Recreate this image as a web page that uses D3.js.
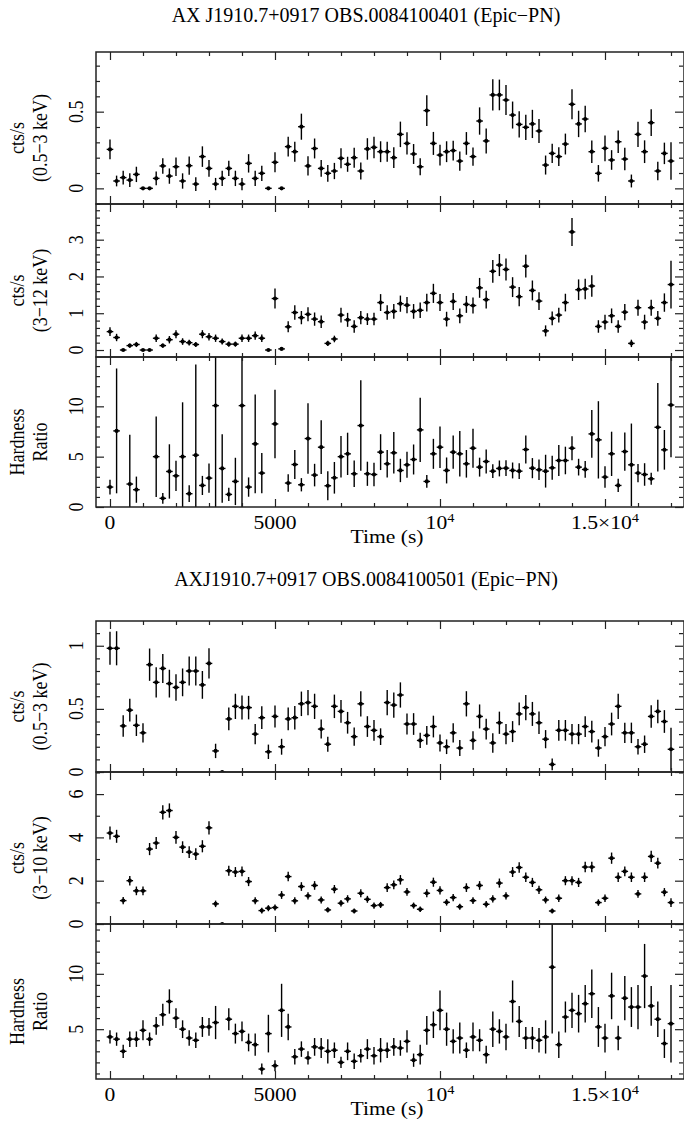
<!DOCTYPE html>
<meta charset="utf-8">
<style>
    body { margin: 0; background: #fff; }
    text { font-family: "Liberation Serif", "DejaVu Serif", serif; fill: #000; }
    .frame { fill: none; stroke: #222; stroke-width: 1.5; }
    .tick line { stroke: #222; stroke-width: 1.2; }
    .bar { stroke: #000; stroke-width: 1.4; }
    .dot { fill: #000; }
</style>
<svg width="684" height="1129"></svg>
<script src="https://d3js.org/d3.v7.min.js"></script>
<script>

    // 200 s bins, 0 .. 17000 s
    var timeBins = d3.range(0, 17001, 200);

    // ---- OBS.0084100401 ----
    var soft1 = [0.254,0.048,0.07,0.054,0.091,0,0,0.065,0.146,0.08,
        0.141,0.048,0.148,0.028,0.207,0.13,0.028,0.065,0.13,0.065,
        0.028,0.163,0.065,0.098,0,0.17,0,0.272,0.239,0.402,
        0.146,0.26,0.13,0.098,0.113,0.196,0.157,0.2,0.113,0.257,
        0.267,0.239,0.239,0.2,0.352,0.293,0.224,0.141,0.507,0.293,
        0.217,0.239,0.246,0.178,0.293,0.207,0.439,0.309,0.609,0.609,
        0.576,0.478,0.417,0.398,0.42,0.374,0.152,0.228,0.207,0.289,
        0.548,0.42,0.452,0.239,0.098,0.261,0.185,0.304,0.191,0.048,
        0.352,0.239,0.428,0.113,0.228,0.178];
    var soft1Err = [0.065,0.035,0.045,0.045,0.05,0,0,0.045,0.05,0.05,
        0.06,0.05,0.06,0.045,0.067,0.055,0.04,0.05,0.05,0.05,
        0.04,0.06,0.05,0.05,0,0.065,0,0.065,0.065,0.085,
        0.063,0.065,0.055,0.055,0.053,0.065,0.049,0.065,0.055,0.07,
        0.07,0.068,0.065,0.068,0.083,0.073,0.065,0.055,0.1,0.075,
        0.068,0.068,0.065,0.063,0.074,0.06,0.089,0.082,0.102,0.1,
        0.098,0.088,0.086,0.082,0.092,0.078,0.062,0.063,0.061,0.068,
        0.098,0.086,0.087,0.073,0.054,0.084,0.064,0.073,0.073,0.042,
        0.082,0.074,0.087,0.06,0.07,0.122];
    var hard1 = [0.5,0.34,0,0.12,0.15,0,0,0.32,0.12,0.28,
        0.43,0.23,0.2,0.15,0.43,0.36,0.32,0.23,0.16,0.16,
        0.32,0.32,0.39,0.32,0,1.4,0.03,0.63,1.02,0.88,
        0.97,0.84,0.77,0.18,0.3,0.95,0.82,0.64,0.88,0.84,
        0.84,1.29,1.02,1.05,1.26,1.22,1.05,1.08,1.29,1.54,
        1.29,0.84,1.32,0.93,1.24,1.21,1.69,1.37,2.14,2.31,
        2.19,1.71,1.45,2.28,1.62,1.33,0.52,0.86,0.95,1.29,
        3.21,1.64,1.66,1.74,0.64,0.76,0.93,0.64,1.03,0.18,
        1.15,0.76,1.15,0.86,1.29,1.78];
    var hard1Err = [0.12,0.1,0,0.06,0.07,0,0,0.1,0.06,0.1,
        0.11,0.09,0.08,0.07,0.11,0.1,0.1,0.08,0.07,0.07,
        0.1,0.1,0.11,0.1,0,0.27,0.03,0.15,0.2,0.18,
        0.19,0.18,0.17,0.07,0.09,0.2,0.19,0.17,0.18,0.16,
        0.17,0.23,0.2,0.2,0.22,0.22,0.2,0.21,0.24,0.26,
        0.23,0.2,0.23,0.2,0.23,0.22,0.27,0.24,0.31,0.3,
        0.3,0.27,0.26,0.31,0.27,0.24,0.15,0.19,0.2,0.24,
        0.38,0.28,0.28,0.29,0.17,0.2,0.2,0.17,0.22,0.1,
        0.22,0.2,0.22,0.2,0.25,0.65];
    var hr1 = [1.98,7.56,null,2.28,1.72,null,null,5.0,0.86,3.53,
        3.1,5.0,1.32,5.15,2.14,2.87,10.07,3.83,1.25,2.54,
        10.07,1.98,6.27,3.37,null,8.25,null,2.38,4.22,2.21,
        6.8,3.17,5.94,2.11,2.9,5.0,5.28,3.3,8.09,3.3,
        3.23,5.45,4.29,5.38,3.63,4.19,4.72,7.66,2.54,5.28,
        5.94,3.63,5.45,5.28,4.29,5.84,3.96,4.52,3.56,3.83,
        3.86,3.63,3.56,5.71,3.86,3.7,3.56,3.89,4.62,4.62,
        5.84,3.96,3.73,7.26,6.67,2.97,5.28,2.14,5.51,4.19,
        3.37,3.23,2.8,7.92,5.68,10.13];
    var hr1Err = [0.73,6.2,0,4.9,1.3,0,0,4.0,0.53,2.7,
        1.5,5.4,0.83,9.0,0.95,1.45,10.5,3.4,0.66,2.35,
        10.5,0.96,4.9,2.0,0,3.4,0,0.87,1.43,0.66,
        3.5,1.12,2.67,1.43,1.57,2.06,2.1,1.32,4.5,1.2,
        1.16,1.78,1.37,2.06,1.16,1.29,1.49,3.2,0.63,1.49,
        2.06,1.29,1.65,2.26,1.37,1.93,0.94,1.2,0.69,0.79,
        0.79,0.79,0.78,1.4,1.0,1.02,1.63,1.19,1.53,1.37,
        1.19,0.83,0.83,2.38,3.84,1.07,2.2,0.66,1.9,4.1,
        0.9,1.12,0.6,4.4,1.97,5.2];

    // ---- OBS.0084100501 ----
    var soft2 = [0.98,0.98,0.365,0.49,0.37,0.31,0.85,0.71,0.82,0.70,
        0.67,0.71,0.80,0.80,0.69,0.86,0.167,0.0,0.42,0.52,
        0.51,0.51,0.30,0.43,0.16,0.44,0.2,0.42,0.43,0.54,
        0.55,0.52,0.34,0.22,0.52,0.48,0.39,0.28,0.54,0.36,
        0.33,0.28,0.55,0.53,0.61,0.38,0.38,0.25,0.29,0.36,
        0.23,0.2,0.31,0.19,0.54,0.25,0.44,0.34,0.23,0.39,
        0.30,0.32,0.46,0.51,0.46,0.39,0.26,0.06,0.33,0.33,
        0.30,0.30,0.36,0.32,0.19,0.28,0.38,0.52,0.31,0.31,
        0.2,0.22,0.44,0.48,0.40,0.18];
    var soft2Err = [0.13,0.135,0.085,0.09,0.085,0.077,0.128,0.12,0.115,0.11,
        0.105,0.11,0.115,0.115,0.11,0.12,0.057,0.01,0.09,0.1,
        0.095,0.093,0.08,0.09,0.057,0.087,0.063,0.09,0.093,0.097,
        0.1,0.1,0.075,0.06,0.093,0.09,0.086,0.073,0.1,0.082,
        0.082,0.066,0.1,0.1,0.1,0.083,0.086,0.06,0.075,0.086,
        0.067,0.058,0.077,0.063,0.1,0.073,0.095,0.082,0.077,0.088,
        0.08,0.083,0.09,0.1,0.095,0.09,0.072,0.046,0.082,0.082,
        0.08,0.08,0.082,0.086,0.069,0.077,0.09,0.1,0.081,0.081,
        0.062,0.069,0.089,0.093,0.09,0.17];
    var hard2 = [4.2,4.05,1.08,2.0,1.53,1.53,3.46,3.74,5.16,5.24,
        4.0,3.55,3.32,3.23,3.59,4.44,0.93,0,2.46,2.4,
        2.43,1.96,1.07,0.62,0.73,0.76,1.34,2.19,1.07,1.73,
        1.3,1.78,1.11,0.65,1.61,0.96,1.16,0.6,1.42,1.14,
        0.85,0.88,1.68,1.81,2.04,1.48,0.85,0.68,1.42,1.93,
        1.55,1.0,1.22,0.8,1.68,1.08,1.78,0.91,1.16,1.89,
        1.3,2.4,2.61,2.16,1.92,1.58,1.11,0.6,1.19,2.0,
        2.0,1.92,2.63,2.63,0.99,1.19,3.04,2.16,2.43,2.16,
        1.39,2.16,3.12,2.81,1.47,0.99];
    var hard2Err = [0.3,0.3,0.17,0.22,0.2,0.2,0.28,0.28,0.33,0.33,
        0.29,0.27,0.27,0.27,0.28,0.31,0.15,0.02,0.23,0.23,
        0.23,0.21,0.16,0.13,0.14,0.14,0.18,0.22,0.16,0.2,
        0.17,0.2,0.16,0.12,0.19,0.15,0.17,0.12,0.18,0.16,
        0.14,0.14,0.2,0.2,0.22,0.18,0.14,0.13,0.18,0.21,
        0.19,0.15,0.17,0.14,0.2,0.16,0.2,0.15,0.17,0.21,
        0.17,0.23,0.24,0.22,0.21,0.19,0.16,0.12,0.17,0.21,
        0.21,0.21,0.24,0.24,0.15,0.17,0.26,0.22,0.23,0.22,
        0.18,0.22,0.26,0.25,0.19,0.2];
    var hr2 = [4.3,4.1,3.0,4.1,4.1,4.9,4.1,5.3,6.3,7.5,
        6.0,5.0,4.2,4.0,5.2,5.2,5.6,null,5.9,4.6,
        4.8,3.8,3.6,1.4,4.6,1.7,6.7,5.2,2.5,3.2,
        2.4,3.4,3.3,3.0,3.1,2.0,3.0,2.1,2.6,3.2,
        2.6,3.1,3.1,3.4,3.3,3.9,2.2,2.7,4.9,5.4,
        6.7,5.0,3.9,4.2,3.1,4.3,4.0,2.7,5.0,4.8,
        4.3,7.5,5.7,4.2,4.2,4.0,4.3,10.6,3.6,6.1,
        6.7,6.4,7.3,8.2,5.2,4.2,8.0,4.2,7.8,7.0,
        7.0,9.8,7.1,5.9,3.7,5.5];
    var hr2Err = [0.6,0.6,0.6,0.7,0.7,0.9,0.6,0.8,1.0,1.1,
        0.9,0.8,0.7,0.7,0.9,0.8,1.5,0,1.0,0.9,
        0.9,0.8,1.0,0.5,1.7,0.5,2.4,1.2,0.7,0.7,
        0.6,0.8,0.9,1.1,0.7,0.5,0.8,0.7,0.6,0.9,
        0.8,1.1,0.7,0.8,0.7,1.0,0.6,0.9,1.3,1.2,
        1.8,1.5,1.1,1.4,0.7,1.3,1.0,0.8,1.6,1.1,
        1.2,1.9,1.4,1.0,1.0,1.1,1.5,6.0,1.2,1.4,
        1.6,1.7,1.7,2.2,1.8,1.3,2.1,1.1,2.0,1.8,
        2.0,2.9,1.8,1.6,1.3,3.5];

    var xTickLabels = [
        {t: 0, parts: [["0"]]},
        {t: 5000, parts: [["5000"]]},
        {t: 10000, parts: [["10"], ["4", "sup"]]},
        {t: 15000, parts: [["1.5\u00d710"], ["4", "sup"]]}
    ];

    var figures = [
        {title: "AX J1910.7+0917 OBS.0084100401 (Epic\u2212PN)", titleY: 22, panels: [
            {top: 52, bottom: 204, domain: [-0.102, 0.889], minor: 0.1, major: 0.5, labels: [0, 0.5],
             name: ["cts/s", "(0.5\u22123 keV)"], v: soft1, e: soft1Err},
            {top: 204, bottom: 357, domain: [-0.19, 3.97], minor: 0.2, major: 1, labels: [0, 1, 2, 3],
             name: ["cts/s", "(3\u221212 keV)"], v: hard1, e: hard1Err},
            {top: 357, bottom: 507, domain: [0, 14.9], minor: 1, major: 5, labels: [0, 5, 10],
             name: ["Hardness", "Ratio"], v: hr1, e: hr1Err}
        ]},
        {title: "AXJ1910.7+0917 OBS.0084100501 (Epic\u2212PN)", titleY: 586, panels: [
            {top: 621, bottom: 772, domain: [0, 1.196], minor: 0.1, major: 0.5, labels: [0, 0.5, 1],
             name: ["cts/s", "(0.5\u22123 keV)"], v: soft2, e: soft2Err},
            {top: 772, bottom: 924, domain: [0, 7.02], minor: 1, major: 2, labels: [0, 2, 4, 6],
             name: ["cts/s", "(3\u221210 keV)"], v: hard2, e: hard2Err},
            {top: 924, bottom: 1079, domain: [0.5, 14.5], minor: 1, major: 5, labels: [5, 10],
             name: ["Hardness", "Ratio"], v: hr2, e: hr2Err}
        ]}
    ];

    var svg = d3.select("svg"),
        left = 96, right = 684;

    // 0 s at x=110, 5000 s per 165 px
    var x = d3.scaleLinear().domain([-424, 17394]).range([left, right]);

    var xMinor = d3.range(0, 17001, 1000).filter(function(d) { return d % 5000 !== 0; }),
        xMajor = [0, 5000, 10000, 15000];

    function fmt(d) { return String(d); }

    figures.forEach(function(fig, fi) {
        svg.append("text")
            .attr("x", 366).attr("y", fig.titleY)
            .attr("text-anchor", "middle")
            .style("font-size", "20px")
            .text(fig.title);

        fig.panels.forEach(function(p, pi) {
            var y = d3.scaleLinear().domain(p.domain).range([p.bottom, p.top]);
            var g = svg.append("g");
            var clipId = "clip" + fi + pi;

            svg.append("clipPath").attr("id", clipId)
                .append("rect")
                .attr("x", left).attr("y", p.top)
                .attr("width", right - left).attr("height", p.bottom - p.top);

            var pts = timeBins.map(function(t, i) { return {t: t, v: p.v[i], e: p.e[i]}; })
                .filter(function(d) { return d.v !== null; });

            var marks = g.append("g").attr("clip-path", "url(#" + clipId + ")");

            marks.selectAll(".vbar").data(pts).enter().append("line")
                .attr("class", "bar")
                .attr("x1", function(d) { return x(d.t); })
                .attr("x2", function(d) { return x(d.t); })
                .attr("y1", function(d) { return y(d.v - d.e); })
                .attr("y2", function(d) { return y(d.v + d.e); });

            marks.selectAll(".hbar").data(pts).enter().append("line")
                .attr("class", "bar")
                .attr("x1", function(d) { return x(d.t - 100); })
                .attr("x2", function(d) { return x(d.t + 100); })
                .attr("y1", function(d) { return y(d.v); })
                .attr("y2", function(d) { return y(d.v); });

            marks.selectAll(".dot").data(pts).enter().append("circle")
                .attr("class", "dot")
                .attr("cx", function(d) { return x(d.t); })
                .attr("cy", function(d) { return y(d.v); })
                .attr("r", 2.1);

            // ticks, all pointing inward
            var yMinor = d3.range(Math.ceil(p.domain[0] / p.minor) * p.minor, p.domain[1], p.minor)
                .map(function(d) { return +d.toFixed(3); })
                .filter(function(d) { return Math.abs(d / p.major - Math.round(d / p.major)) > 1e-6; });
            var yMajor = d3.range(Math.ceil(p.domain[0] / p.major) * p.major, p.domain[1], p.major)
                .map(function(d) { return +d.toFixed(3); });

            function addAxis(axis, tx, ty) {
                g.append("g")
                    .attr("transform", "translate(" + tx + "," + ty + ")")
                    .call(axis)
                    .call(function(s) { s.select(".domain").remove(); s.selectAll("text").remove(); });
            }

            addAxis(d3.axisBottom(x).tickValues(xMinor).tickSize(-4), 0, p.bottom);
            addAxis(d3.axisBottom(x).tickValues(xMajor).tickSize(-8), 0, p.bottom);
            addAxis(d3.axisTop(x).tickValues(xMinor).tickSize(-4), 0, p.top);
            addAxis(d3.axisTop(x).tickValues(xMajor).tickSize(-8), 0, p.top);
            addAxis(d3.axisLeft(y).tickValues(yMinor).tickSize(-4), left, 0);
            addAxis(d3.axisLeft(y).tickValues(yMajor).tickSize(-8), left, 0);
            addAxis(d3.axisRight(y).tickValues(yMinor).tickSize(-4), right - 1, 0);
            addAxis(d3.axisRight(y).tickValues(yMajor).tickSize(-8), right - 1, 0);

            g.append("rect").attr("class", "frame")
                .attr("x", left).attr("y", p.top)
                .attr("width", right - left).attr("height", p.bottom - p.top);

            // rotated y tick labels
            g.selectAll(".ylab").data(p.labels).enter().append("text")
                .attr("transform", function(d) { return "translate(83," + y(d) + ") rotate(-90) scale(1,1.2)"; })
                .attr("text-anchor", "middle")
                .style("font-size", "18px")
                .text(fmt);

            // rotated axis name, two lines
            var cy = (p.top + p.bottom) / 2 + 10;
            p.name.forEach(function(line, li) {
                g.append("text")
                    .attr("transform", "translate(" + (24 + li * 23) + "," + cy + ") rotate(-90) scale(1,1.2)")
                    .attr("text-anchor", "middle")
                    .style("font-size", "18px")
                    .text(line);
            });

            if (pi === fig.panels.length - 1) {
                xTickLabels.forEach(function(lab) {
                    var t = g.append("text")
                        .attr("transform", "translate(" + x(lab.t) + "," + (p.bottom + 22) + ") scale(1.2,1)")
                        .attr("text-anchor", "middle")
                        .style("font-size", "18px");
                    lab.parts.forEach(function(part) {
                        var ts = t.append("tspan").text(part[0]);
                        if (part[1] === "sup") ts.attr("dy", -7).style("font-size", "12px");
                    });
                });
                g.append("text")
                    .attr("transform", "translate(387," + (p.bottom + 36) + ") scale(1.2,1)")
                    .attr("text-anchor", "middle")
                    .style("font-size", "18px")
                    .text("Time (s)");
            }
        });
    });
</script>
